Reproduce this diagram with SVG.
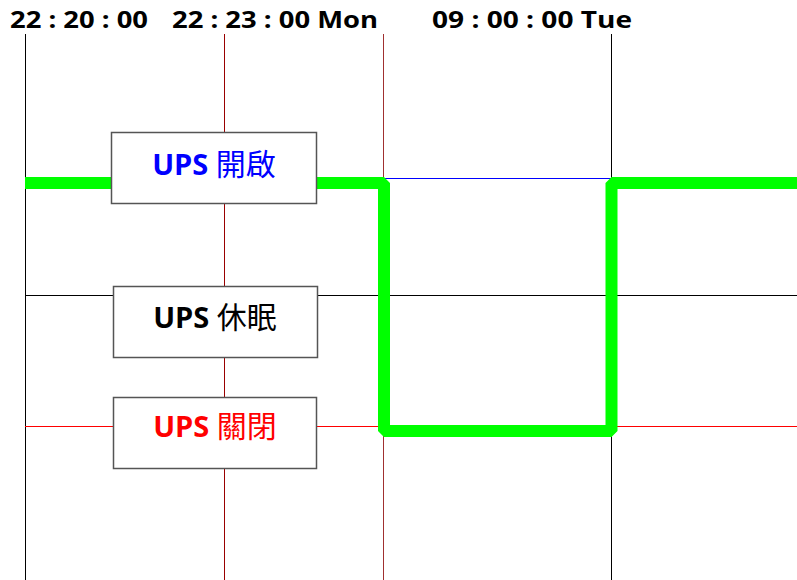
<svg xmlns="http://www.w3.org/2000/svg" width="797" height="580" viewBox="0 0 797 580">
<style>
.hdr{font-family:"Open Sans","Liberation Sans",sans-serif;font-weight:bold;font-size:23px;fill:#000}
.lbl{font-family:"Open Sans","Noto Sans CJK TC",sans-serif;font-weight:bold;font-size:29px;text-anchor:middle}
.cjk{font-family:"Noto Sans CJK TC",sans-serif;font-weight:normal;font-size:30px}
.box{fill:#fff;stroke:#555;stroke-width:1.5}
.thin{stroke-width:1;fill:none}
</style>
<rect width="797" height="580" fill="#fff"/>
<g id="header">
<text class="hdr" x="10" y="28" textLength="138" lengthAdjust="spacingAndGlyphs">22 : 20 : 00</text>
<text class="hdr" x="172" y="28" textLength="206" lengthAdjust="spacingAndGlyphs">22 : 23 : 00 Mon</text>
<text class="hdr" x="432" y="28" textLength="200" lengthAdjust="spacingAndGlyphs">09 : 00 : 00 Tue</text>
</g>
<g id="connectors">
<line class="thin" x1="25.5" y1="34" x2="25.5" y2="580" stroke="#000"/>
<line class="thin" x1="224.5" y1="34" x2="224.5" y2="580" stroke="#990000"/>
<line class="thin" x1="383.5" y1="34" x2="383.5" y2="580" stroke="#a03030"/>
<line class="thin" x1="611.5" y1="34" x2="611.5" y2="580" stroke="#000"/>
<line class="thin" x1="384" y1="178.5" x2="611" y2="178.5" stroke="#0000ff"/>
<line class="thin" x1="25" y1="295.5" x2="797" y2="295.5" stroke="#000"/>
<line class="thin" x1="25" y1="426.5" x2="797" y2="426.5" stroke="#ff0000"/>
<polyline points="25,183 384,183 384,431 611.5,431 611.5,183 797,183" fill="none" stroke="#00ff00" stroke-width="12" stroke-linejoin="bevel"/>
</g>
<g id="node-on">
<rect class="box" x="111.5" y="132.5" width="205" height="71"/>
<text class="lbl" x="214" y="175" fill="#0000ff">UPS <tspan class="cjk">開啟</tspan></text>
</g>
<g id="node-sleep">
<rect class="box" x="113.5" y="286.5" width="204" height="71"/>
<text class="lbl" x="215" y="328" fill="#000">UPS <tspan class="cjk">休眠</tspan></text>
</g>
<g id="node-off">
<rect class="box" x="113.5" y="397.5" width="203" height="71"/>
<text class="lbl" x="215" y="437" fill="#ff0000">UPS <tspan class="cjk">關閉</tspan></text>
</g>
</svg>
